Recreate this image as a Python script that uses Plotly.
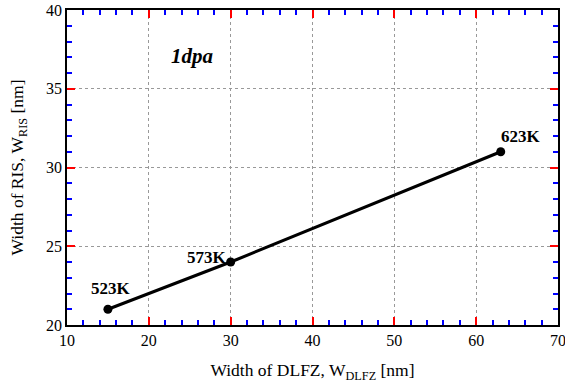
import plotly.graph_objects as go

dlfz = [15, 30, 63]
ris = [21, 24, 31]
labels = ["523K", "573K", "623K"]

font = "Liberation Serif, Times New Roman, serif"

fig = go.Figure()
fig.add_trace(go.Scatter(x=dlfz, y=ris, mode="lines+markers",
                         line=dict(color="black", width=3),
                         marker=dict(color="black", size=9),
                         showlegend=False, hoverinfo="skip"))

offsets = [(3, -21, "center"), (-2, -5, "right"), (-2, -15, "left")]
for x, y, t, (ax, ay, xa) in zip(dlfz, ris, labels, offsets):
    fig.add_annotation(x=x, y=y, text="<b>%s</b>" % t, showarrow=False,
                       xanchor=xa, yanchor="middle", xshift=ax, yshift=-ay,
                       font=dict(family=font, size=17, color="black"))

fig.add_annotation(x=25.3, y=37.1, text="<b><i>1dpa</i></b>", showarrow=False,
                   font=dict(family=font, size=21, color="black"))

tickfont = dict(family=font, size=16, color="black")
common = dict(showline=True, linecolor="black", linewidth=1.5,
              ticks="inside", ticklen=8, tickcolor="red", tickwidth=2,
              zeroline=False, tickfont=tickfont)

x_minor = dict(dtick=2, tick0=10, ticks="inside", ticklen=5, tickcolor="blue", tickwidth=1.5, showgrid=False)
y_minor = dict(dtick=1, tick0=20, ticks="inside", ticklen=5, tickcolor="blue", tickwidth=1.5, showgrid=False)

fig.update_layout(
    width=565, height=388, margin=dict(l=67, r=7, t=10, b=63, autoexpand=False),
    plot_bgcolor="white", paper_bgcolor="white",
    xaxis=dict(range=[10, 70], dtick=10, tick0=10, minor=x_minor,
               showgrid=True, gridcolor="#999999", griddash="dot", gridwidth=1,
               ticklabeloverflow="allow",
               title=dict(text="Width of DLFZ, W<sub>DLFZ</sub> [nm]",
                          font=dict(family=font, size=17.5, color="black"), standoff=16),
               **common),
    yaxis=dict(range=[20, 40], dtick=5, tick0=20, minor=y_minor,
               showgrid=True, gridcolor="#999999", griddash="dot", gridwidth=1,
               title=dict(text="Width of RIS, W<sub>RIS</sub> [nm]",
                          font=dict(family=font, size=17.5, color="black"), standoff=18),
               **common),
    xaxis2=dict(range=[10, 70], dtick=10, tick0=10, minor=x_minor, overlaying="x",
                side="top", showticklabels=False, showgrid=False, **common),
    yaxis2=dict(range=[20, 40], dtick=5, tick0=20, minor=y_minor, overlaying="y",
                side="right", showticklabels=False, showgrid=False, **common),
)
fig.add_trace(go.Scatter(x=[dlfz[0]], y=[ris[0]], xaxis="x2", yaxis="y2", mode="markers",
                         marker=dict(opacity=0), showlegend=False, hoverinfo="skip"))

fig.write_html("out.html", config={"displayModeBar": False},
               post_script="document.body.style.margin='0';document.body.style.overflow='hidden';")
